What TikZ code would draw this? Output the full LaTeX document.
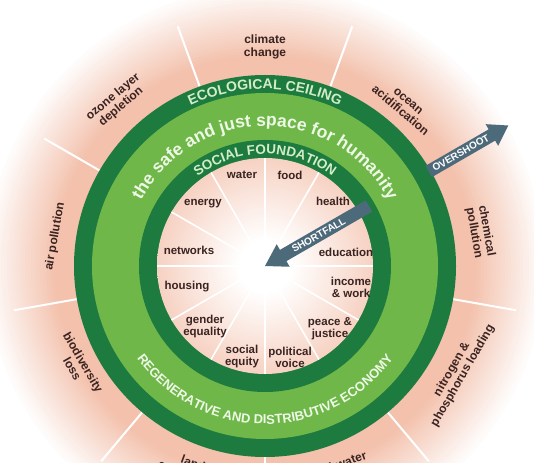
\documentclass[tikz,border=0pt]{standalone}
\usepackage{fontspec}
\setmainfont{Liberation Sans}
\usetikzlibrary{decorations.text}
\definecolor{RingGreen}{HTML}{1D7B3F}
\definecolor{SpaceGreen}{HTML}{6FB748}
\definecolor{Salmon}{HTML}{F3C1AC}
\definecolor{ArrowSlate}{HTML}{4D6A7B}
\definecolor{LabelInk}{HTML}{3A2320}
\definecolor{RingText}{HTML}{D4EDC9}
\definecolor{SpaceText}{HTML}{EEF8E6}
\pgfdeclareradialshading{centreglow}{\pgfpoint{0bp}{0bp}}{color(0bp)=(white); color(6bp)=(white); color(32bp)=(Salmon); color(50bp)=(Salmon)}

\begin{document}
\begin{tikzpicture}[x=1pt,y=1pt,
  sectorline/.style={white,line width=2pt},
  ringtext/.style={decorate,decoration={text along path,text align=center,text={#1}}},
  needlabel/.style={font=\bfseries\fontsize{11.5}{12}\selectfont,text=LabelInk,align=center,inner sep=0pt},
  boundlabel/.style={font=\bfseries\fontsize{12}{12.5}\selectfont,text=LabelInk,align=center,inner sep=0pt},
  arrowtext/.style={font=\bfseries\fontsize{10}{10}\selectfont,text=white,inner sep=0pt}
]
  \useasboundingbox (-265,-196) rectangle (269,266);
  \clip (-265,-196) rectangle (269,266);
  \fill[white] (-265,-196) rectangle (269,266);
  % outer glow fading to white, and the nine boundary sectors
  \foreach \r [evaluate=\r as \m using {min(100,(282-\r)*1.4)}] in {282,279,...,192}
    \fill[Salmon!\m!white] (0,0) circle (\r);
  \foreach \a in {30,70,...,350} \draw[sectorline] (\a:191) -- (\a:255);
  % the doughnut
  \fill[RingGreen] (0,0) circle (191);
  \fill[SpaceGreen] (0,0) circle (173);
  \fill[RingGreen] (0,0) circle (126);
  \shade[shading=centreglow] (0,0) circle (108);
  \foreach \a in {0,30,...,330} \draw[sectorline,line width=1.6pt] (\a:14) -- (\a:108);
  % ring texts
  \path[ringtext={|\bfseries\fontsize{14}{14}\selectfont\color{RingText}|ECOLOGICAL CEILING}]
    (180:177) arc[start angle=180,end angle=0,radius=177];
  \path[ringtext={|\bfseries\fontsize{17.5}{17.5}\selectfont\color{SpaceText}|the safe and just space for humanity}]
    (180:140) arc[start angle=180,end angle=0,radius=140];
  \path[ringtext={|\bfseries\fontsize{13.5}{13.5}\selectfont\color{RingText}|SOCIAL FOUNDATION}]
    (180:112) arc[start angle=180,end angle=0,radius=112];
  \path[ringtext={|\bfseries\fontsize{13}{13}\selectfont\color{SpaceText}|REGENERATIVE AND DISTRIBUTIVE ECONOMY}]
    (180:158) arc[start angle=180,end angle=360,radius=158];
  % overshoot and shortfall arrows
  \fill[ArrowSlate,rotate=30] (189,-6.5) -- (262,-6.5) -- (262,-12.5) -- (281,0)
    -- (262,12.5) -- (262,6.5) -- (189,6.5) -- cycle;
  \node[arrowtext,rotate=30] (overshoot) at (30:226) {OVERSHOOT};
  \fill[ArrowSlate,rotate=30] (120,-6.5) -- (21,-6.5) -- (21,-13) -- (0,0)
    -- (21,13) -- (21,6.5) -- (120,6.5) -- cycle;
  \node[arrowtext,rotate=30] (shortfall) at (30:62) {SHORTFALL};
  % planetary boundaries
  \node[boundlabel] (climate) at (90:219) {climate\\change};
  \node[boundlabel,rotate=-40] (ocean) at (49:212) {ocean\\acidification};
  \node[boundlabel,rotate=-80] (chemical) at (9:218) {chemical\\pollution};
  \node[boundlabel,rotate=60] (nitrogen) at (-29:220) {nitrogen \&\\phosphorus loading};
  \node[boundlabel,rotate=20] (freshwater) at (290:218) {freshwater\\withdrawals};
  \node[boundlabel,rotate=-20] (land) at (250:216) {land\\conversion};
  \node[boundlabel,rotate=-60] (biodiversity) at (208:212) {biodiversity\\loss};
  \node[boundlabel,rotate=80] (air) at (172:212) {air pollution};
  \node[boundlabel,rotate=40] (ozone) at (132:221) {ozone layer\\depletion};
  % social needs
  \node[needlabel] (water) at (-23,91) {water};
  \node[needlabel] (food) at (25,91) {food};
  \node[needlabel] (health) at (68,65) {health};
  \node[needlabel] (education) at (81,14) {education};
  \node[needlabel] (income) at (86,-21) {income\\\& work};
  \node[needlabel] (peace) at (65,-63) {peace \&\\justice};
  \node[needlabel] (voice) at (25,-91) {political\\voice};
  \node[needlabel] (equity) at (-23,-91) {social\\equity};
  \node[needlabel] (gender) at (-60,-61) {gender\\equality};
  \node[needlabel] (housing) at (-78,-21) {housing};
  \node[needlabel] (networks) at (-76,16) {networks};
  \node[needlabel] (energy) at (-62,62) {energy};
\end{tikzpicture}
\end{document}
